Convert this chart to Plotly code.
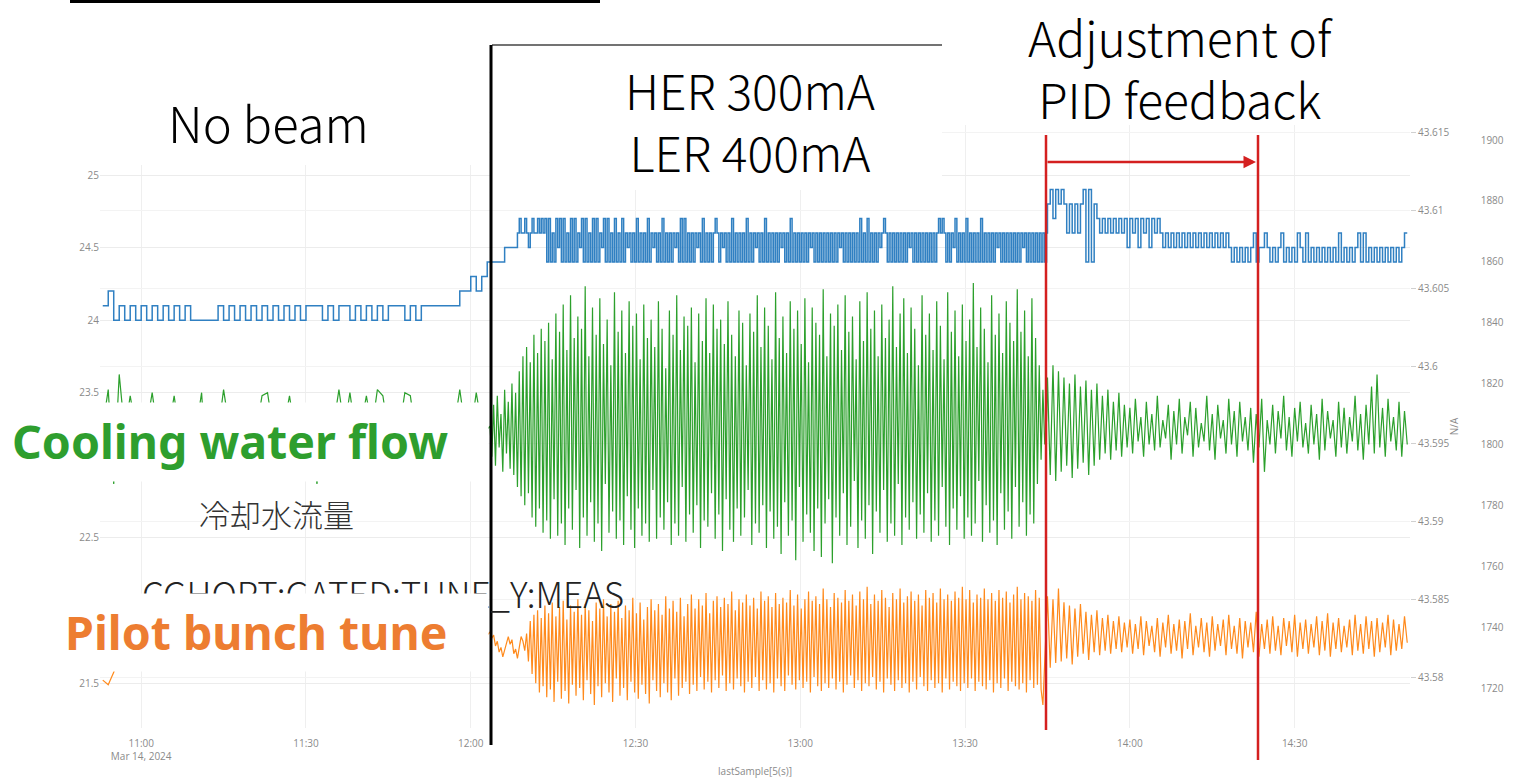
import pandas as pd
import plotly.graph_objects as go

# ---------------- data ----------------
PRE_START = "2024-03-14 10:53:00"    # no-beam part, 1-minute samples
BEAM_START = "2024-03-14 12:03:30"   # beam part, 20-second samples
POST_START = "2024-03-14 13:45:00"   # PID adjustment part, 30-second samples

# blue trace (left axis)
blue_pre = [24.1, 24.2, 24.0, 24.1, 24.0, 24.1, 24.0, 24.1, 24.0, 24.1, 24.0, 24.1,
            24.0, 24.1, 24.0, 24.1,
            24.0, 24.0, 24.0, 24.0, 24.0,
            24.1, 24.0, 24.1, 24.0, 24.1, 24.0, 24.1, 24.0, 24.1, 24.0, 24.1, 24.0, 24.1, 24.0, 24.1, 24.0,
            24.1, 24.1, 24.1,
            24.0, 24.1, 24.0, 24.1, 24.1, 24.0, 24.1, 24.0, 24.1, 24.0,
            24.1, 24.0, 24.1, 24.1, 24.1, 24.0, 24.1, 24.0, 24.1,
            24.1, 24.1, 24.1, 24.1, 24.1, 24.1,
            24.2, 24.2, 24.3, 24.2, 24.3, 24.4]
blue_beam = [24.4, 24.4, 24.4, 24.4, 24.4, 24.4, 24.4, 24.4, 24.5, 24.5,
             24.5, 24.5, 24.5, 24.5, 24.5, 24.6, 24.7, 24.6, 24.6, 24.7,
             24.6, 24.5, 24.6, 24.7, 24.6, 24.6, 24.7, 24.6, 24.7, 24.6,
             24.7, 24.4, 24.7, 24.4, 24.6, 24.4, 24.7, 24.5, 24.7, 24.4,
             24.7, 24.4, 24.6, 24.4, 24.7, 24.4, 24.7, 24.4, 24.6, 24.5,
             24.7, 24.4, 24.7, 24.4, 24.6, 24.4, 24.7, 24.4, 24.7, 24.4,
             24.6, 24.5, 24.7, 24.4, 24.7, 24.4, 24.6, 24.4, 24.7, 24.4,
             24.6, 24.4, 24.7, 24.4, 24.6, 24.5, 24.6, 24.4, 24.6, 24.4,
             24.7, 24.4, 24.6, 24.4, 24.6, 24.4, 24.7, 24.4, 24.6, 24.5,
             24.6, 24.4, 24.6, 24.4, 24.7, 24.4, 24.6, 24.4, 24.6, 24.4,
             24.6, 24.5, 24.6, 24.4, 24.7, 24.4, 24.7, 24.4, 24.6, 24.4,
             24.6, 24.4, 24.6, 24.5, 24.6, 24.4, 24.7, 24.4, 24.6, 24.4,
             24.6, 24.4, 24.6, 24.7, 24.6, 24.4, 24.6, 24.5, 24.6, 24.4,
             24.6, 24.4, 24.7, 24.4, 24.6, 24.4, 24.6, 24.4, 24.6, 24.4,
             24.7, 24.4, 24.6, 24.4, 24.6, 24.5, 24.6, 24.4, 24.6, 24.4,
             24.7, 24.4, 24.6, 24.4, 24.6, 24.4, 24.6, 24.4, 24.6, 24.5,
             24.6, 24.4, 24.6, 24.4, 24.7, 24.4, 24.6, 24.4, 24.6, 24.4,
             24.6, 24.4, 24.6, 24.4, 24.6, 24.5, 24.6, 24.4, 24.6, 24.4,
             24.6, 24.4, 24.6, 24.4, 24.6, 24.4, 24.6, 24.4, 24.6, 24.4,
             24.6, 24.5, 24.6, 24.4, 24.6, 24.4, 24.6, 24.4, 24.6, 24.4,
             24.6, 24.4, 24.7, 24.4, 24.6, 24.4, 24.7, 24.4, 24.6, 24.4,
             24.6, 24.4, 24.6, 24.5, 24.6, 24.7, 24.6, 24.4, 24.6, 24.4,
             24.6, 24.4, 24.6, 24.4, 24.6, 24.4, 24.6, 24.4, 24.6, 24.5,
             24.6, 24.4, 24.6, 24.4, 24.6, 24.4, 24.6, 24.4, 24.6, 24.4,
             24.6, 24.4, 24.6, 24.4, 24.6, 24.7, 24.6, 24.7, 24.6, 24.4,
             24.6, 24.4, 24.6, 24.5, 24.7, 24.4, 24.6, 24.4, 24.6, 24.4,
             24.7, 24.4, 24.6, 24.4, 24.6, 24.4, 24.6, 24.4, 24.7, 24.4,
             24.6, 24.4, 24.6, 24.4, 24.6, 24.4, 24.6, 24.5, 24.6, 24.4,
             24.6, 24.4, 24.6, 24.4, 24.6, 24.4, 24.6, 24.4, 24.6, 24.4,
             24.6, 24.5, 24.6, 24.4, 24.6, 24.4, 24.6, 24.4, 24.6, 24.4,
             24.6, 24.4, 24.6, 24.4, 24.6]
blue_post = [24.8,
             24.9, 24.7, 24.9, 24.8, 24.9,
             24.8, 24.6, 24.8, 24.6, 24.8, 24.6, 24.8,
             24.9, 24.4, 24.9, 24.4, 24.8,
             24.7, 24.6, 24.7, 24.6, 24.7, 24.6, 24.7, 24.6, 24.7,
             24.6, 24.7, 24.5, 24.7, 24.6, 24.7, 24.5, 24.7, 24.6, 24.7, 24.5, 24.7, 24.6, 24.7,
             24.6, 24.5, 24.6, 24.5, 24.6, 24.5, 24.6, 24.5, 24.6, 24.5, 24.6, 24.5, 24.6,
             24.5, 24.6, 24.5, 24.6, 24.5, 24.6, 24.5, 24.6, 24.5, 24.6, 24.5, 24.6, 24.5,
             24.4, 24.5, 24.4, 24.5, 24.4, 24.5, 24.4, 24.5, 24.6, 24.4, 24.5,
             24.5, 24.6, 24.5, 24.4, 24.5, 24.4, 24.5, 24.6, 24.4, 24.5,
             24.4, 24.5, 24.4, 24.6, 24.5, 24.4, 24.6, 24.4, 24.5, 24.4,
             24.5, 24.4, 24.5, 24.4, 24.5, 24.4, 24.5, 24.4, 24.6, 24.4,
             24.5, 24.4, 24.5, 24.4, 24.5, 24.6, 24.4, 24.6, 24.4, 24.5,
             24.4, 24.5, 24.4, 24.5, 24.4, 24.5, 24.4, 24.5, 24.4, 24.5,
             24.4, 24.5, 24.6, 24.6]

# green trace: cooling water flow (far right axis)
green_pre = [1806, 1818, 1787, 1823, 1804, 1816, 1805, 1803, 1806, 1817,
             1804, 1806, 1805, 1816, 1803, 1806, 1804, 1805, 1817, 1788,
             1805, 1804, 1818, 1806, 1803, 1805, 1806, 1804, 1805, 1816,
             1817, 1805, 1803, 1806, 1816, 1804, 1805, 1806, 1803, 1787,
             1805, 1804, 1806, 1818, 1805, 1817, 1804, 1806, 1816, 1805,
             1818, 1816, 1804, 1806, 1805, 1817, 1816, 1803, 1805, 1806,
             1804, 1806, 1805, 1803, 1806, 1818, 1805, 1804, 1817, 1806,
             1805]
green_beam = [1806, 1796, 1813, 1793, 1816, 1799, 1810, 1791, 1818, 1797,
              1814, 1792, 1820, 1790, 1817, 1786, 1824, 1783, 1829, 1780,
              1832, 1784, 1827, 1776, 1836, 1773, 1830, 1779, 1838, 1771,
              1834, 1775, 1840, 1769, 1828, 1782, 1843, 1770, 1837, 1774,
              1846, 1767, 1831, 1779, 1849, 1772, 1835, 1785, 1842, 1766,
              1838, 1776, 1852, 1770, 1829, 1781, 1845, 1768, 1836, 1774,
              1848, 1765, 1833, 1787, 1841, 1771, 1826, 1778, 1850, 1769,
              1837, 1775, 1844, 1767, 1830, 1783, 1847, 1772, 1839, 1766,
              1843, 1779, 1828, 1770, 1846, 1774, 1835, 1768, 1841, 1785,
              1832, 1769, 1847, 1776, 1838, 1772, 1825, 1781, 1844, 1767,
              1836, 1774, 1849, 1770, 1831, 1786, 1842, 1768, 1839, 1777,
              1845, 1771, 1827, 1780, 1843, 1766, 1834, 1775, 1848, 1773,
              1830, 1784, 1846, 1769, 1838, 1777, 1841, 1765, 1833, 1782,
              1847, 1772, 1836, 1768, 1829, 1779, 1844, 1770, 1840, 1776,
              1826, 1785, 1843, 1767, 1837, 1774, 1849, 1771, 1832, 1780,
              1845, 1766, 1839, 1778, 1828, 1769, 1850, 1773, 1835, 1764,
              1842, 1781, 1830, 1770, 1847, 1775, 1838, 1762, 1844, 1786,
              1833, 1768, 1848, 1777, 1827, 1771, 1845, 1765, 1840, 1779,
              1836, 1763, 1851, 1774, 1829, 1782, 1843, 1761, 1839, 1776,
              1846, 1770, 1831, 1784, 1849, 1767, 1837, 1773, 1842, 1788,
              1828, 1766, 1847, 1775, 1834, 1769, 1850, 1780, 1838, 1764,
              1844, 1778, 1829, 1771, 1846, 1785, 1835, 1768, 1841, 1774,
              1852, 1770, 1832, 1787, 1843, 1767, 1848, 1776, 1830, 1772,
              1845, 1781, 1838, 1769, 1826, 1777, 1849, 1771, 1836, 1784,
              1843, 1768, 1831, 1775, 1847, 1770, 1839, 1786, 1828, 1773,
              1850, 1767, 1837, 1779, 1844, 1772, 1829, 1783, 1846, 1769,
              1834, 1776, 1841, 1770, 1853, 1774, 1832, 1788, 1845, 1768,
              1838, 1780, 1827, 1771, 1849, 1775, 1836, 1767, 1843, 1784,
              1830, 1772, 1847, 1778, 1840, 1769, 1834, 1786, 1851, 1773,
              1837, 1781, 1844, 1770, 1829, 1777, 1848, 1774, 1835, 1787,
              1826, 1795, 1818, 1800, 1808]
green_post = [1822, 1790, 1826, 1788, 1824, 1791, 1822, 1793, 1820, 1789,
              1823, 1792, 1819, 1794, 1821, 1790, 1818, 1793, 1820, 1795,
              1816, 1797, 1818, 1795, 1814, 1798, 1817, 1796, 1813, 1799,
              1812, 1797, 1815, 1801, 1809, 1796, 1814, 1800, 1810, 1798,
              1816, 1799, 1808, 1802, 1813, 1795, 1811, 1800, 1815, 1797,
              1809, 1803, 1814, 1796, 1812, 1799, 1807, 1801, 1816, 1798,
              1810, 1795, 1813, 1802, 1808, 1797, 1815, 1800, 1811, 1796,
              1814, 1801, 1809, 1798, 1812, 1794, 1810, 1799, 1815, 1791,
              1808, 1800, 1813, 1797, 1811, 1802, 1816, 1798, 1809, 1796,
              1812, 1801, 1814, 1799, 1807, 1797, 1813, 1800, 1810, 1795,
              1815, 1798, 1811, 1802, 1808, 1796, 1814, 1799, 1812, 1797,
              1809, 1801, 1816, 1798, 1810, 1795, 1813, 1800, 1819, 1797,
              1823, 1799, 1812, 1796, 1815, 1801, 1809, 1798, 1814, 1796,
              1811, 1800]

# orange trace: pilot bunch tune (first right axis)
orange_pre = [43.5798, 43.5795, 43.5803, 43.5815,
              43.5822, 43.5826, 43.5821, 43.5824, 43.5827, 43.5820, 43.5823, 43.5826, 43.5822, 43.5825,
              43.5821, 43.5824, 43.5828, 43.5822, 43.5825, 43.5820, 43.5824, 43.5827, 43.5823, 43.5821,
              43.5825, 43.5822, 43.5826, 43.5823, 43.5820, 43.5824, 43.5827, 43.5822, 43.5825, 43.5821,
              43.5824, 43.5828, 43.5822, 43.5825, 43.5821, 43.5823, 43.5826, 43.5822, 43.5824, 43.5827,
              43.5821, 43.5825, 43.5823, 43.5820, 43.5826, 43.5822, 43.5825, 43.5821, 43.5824, 43.5827,
              43.5822, 43.5825, 43.5820, 43.5824, 43.5826, 43.5821, 43.5823, 43.5827, 43.5822, 43.5825,
              43.5821, 43.5824, 43.5828, 43.5823, 43.5826, 43.5830, 43.5827]
orange_beam = [43.5829, 43.5825, 43.5827, 43.5820, 43.5823, 43.5816, 43.5819, 43.5813, 43.5817, 43.5822,
               43.5826, 43.5821, 43.5824, 43.5815, 43.5818, 43.5812, 43.5820, 43.5826, 43.5823, 43.5817,
               43.5828, 43.5810, 43.5836, 43.5802, 43.5840, 43.5796, 43.5843, 43.5790, 43.5838, 43.5794,
               43.5846, 43.5787, 43.5841, 43.5792, 43.5848, 43.5784, 43.5839, 43.5797, 43.5845, 43.5786,
               43.5849, 43.5791, 43.5837, 43.5783, 43.5846, 43.5795, 43.5842, 43.5788, 43.5850, 43.5793,
               43.5840, 43.5785, 43.5847, 43.5798, 43.5843, 43.5789, 43.5836, 43.5782, 43.5848, 43.5794,
               43.5844, 43.5787, 43.5850, 43.5796, 43.5839, 43.5790, 43.5847, 43.5784, 43.5842, 43.5799,
               43.5849, 43.5788, 43.5838, 43.5793, 43.5846, 43.5785, 43.5843, 43.5797, 43.5851, 43.5790,
               43.5841, 43.5786, 43.5848, 43.5795, 43.5837, 43.5789, 43.5845, 43.5783, 43.5850, 43.5798,
               43.5843, 43.5791, 43.5847, 43.5787, 43.5840, 43.5796, 43.5852, 43.5790, 43.5844, 43.5785,
               43.5849, 43.5799, 43.5842, 43.5788, 43.5851, 43.5793, 43.5839, 43.5797, 43.5847, 43.5789,
               43.5853, 43.5795, 43.5844, 43.5791, 43.5850, 43.5800, 43.5846, 43.5792, 43.5854, 43.5797,
               43.5841, 43.5790, 43.5849, 43.5798, 43.5852, 43.5793, 43.5845, 43.5801, 43.5851, 43.5791,
               43.5847, 43.5796, 43.5855, 43.5792, 43.5843, 43.5799, 43.5850, 43.5794, 43.5848, 43.5790,
               43.5853, 43.5797, 43.5846, 43.5793, 43.5851, 43.5800, 43.5844, 43.5791, 43.5855, 43.5798,
               43.5849, 43.5792, 43.5852, 43.5796, 43.5845, 43.5790, 43.5854, 43.5799, 43.5847, 43.5794,
               43.5851, 43.5791, 43.5848, 43.5801, 43.5856, 43.5795, 43.5846, 43.5792, 43.5853, 43.5798,
               43.5844, 43.5793, 43.5850, 43.5797, 43.5855, 43.5790, 43.5849, 43.5800, 43.5852, 43.5794,
               43.5847, 43.5791, 43.5857, 43.5796, 43.5850, 43.5793, 43.5845, 43.5799, 43.5854, 43.5792,
               43.5851, 43.5797, 43.5848, 43.5790, 43.5856, 43.5795, 43.5849, 43.5801, 43.5853, 43.5793,
               43.5846, 43.5798, 43.5855, 43.5791, 43.5850, 43.5796, 43.5858, 43.5794, 43.5847, 43.5800,
               43.5853, 43.5792, 43.5849, 43.5797, 43.5856, 43.5790, 43.5851, 43.5799, 43.5845, 43.5795,
               43.5854, 43.5791, 43.5850, 43.5798, 43.5857, 43.5793, 43.5848, 43.5796, 43.5852, 43.5790,
               43.5855, 43.5797, 43.5849, 43.5792, 43.5853, 43.5800, 43.5846, 43.5794, 43.5856, 43.5791,
               43.5851, 43.5798, 43.5854, 43.5793, 43.5848, 43.5796, 43.5857, 43.5790, 43.5850, 43.5799,
               43.5853, 43.5792, 43.5849, 43.5797, 43.5855, 43.5794, 43.5851, 43.5791, 43.5858, 43.5796,
               43.5850, 43.5793, 43.5856, 43.5799, 43.5848, 43.5791, 43.5853, 43.5797, 43.5851, 43.5794,
               43.5857, 43.5792, 43.5850, 43.5798, 43.5854, 43.5790, 43.5849, 43.5796, 43.5856, 43.5793,
               43.5851, 43.5799, 43.5855, 43.5791, 43.5848, 43.5797, 43.5853, 43.5794, 43.5858, 43.5792,
               43.5850, 43.5796, 43.5854, 43.5790, 43.5852, 43.5798, 43.5849, 43.5793, 43.5856, 43.5795,
               43.5851, 43.5792, 43.5782, 43.5810, 43.5838]
orange_post = [43.5852, 43.5806, 43.5850, 43.5809, 43.5857, 43.5810, 43.5848, 43.5812, 43.5846, 43.5808,
               43.5844, 43.5813, 43.5847, 43.5815, 43.5842, 43.5811, 43.5840, 43.5816, 43.5843, 43.5814,
               43.5838, 43.5817, 43.5840, 43.5815, 43.5836, 43.5818, 43.5839, 43.5816, 43.5835, 43.5819,
               43.5837, 43.5815, 43.5834, 43.5818, 43.5839, 43.5814, 43.5836, 43.5820, 43.5833, 43.5816,
               43.5838, 43.5813, 43.5835, 43.5819, 43.5840, 43.5815, 43.5834, 43.5817, 43.5837, 43.5812,
               43.5836, 43.5818, 43.5841, 43.5814, 43.5833, 43.5819, 43.5838, 43.5816, 43.5835, 43.5813,
               43.5839, 43.5817, 43.5834, 43.5820, 43.5837, 43.5814, 43.5840, 43.5818, 43.5833, 43.5815,
               43.5838, 43.5812, 43.5836, 43.5819, 43.5835, 43.5816, 43.5842, 43.5813, 43.5834, 43.5818,
               43.5837, 43.5815, 43.5839, 43.5817, 43.5833, 43.5814, 43.5838, 43.5820, 43.5836, 43.5816,
               43.5840, 43.5813, 43.5835, 43.5818, 43.5837, 43.5815, 43.5834, 43.5819, 43.5839, 43.5814,
               43.5836, 43.5817, 43.5841, 43.5813, 43.5835, 43.5818, 43.5838, 43.5816, 43.5833, 43.5819,
               43.5837, 43.5814, 43.5840, 43.5817, 43.5834, 43.5815, 43.5839, 43.5818, 43.5836, 43.5813,
               43.5838, 43.5816, 43.5835, 43.5819, 43.5840, 43.5814, 43.5837, 43.5817, 43.5834, 43.5818,
               43.5839, 43.5822]

tick_times = ["2024-03-14 11:00", "2024-03-14 11:30", "2024-03-14 12:00", "2024-03-14 12:30",
              "2024-03-14 13:00", "2024-03-14 13:30", "2024-03-14 14:00", "2024-03-14 14:30"]
tick_labels = ["11:00<br>Mar 14, 2024", "11:30", "12:00", "12:30", "13:00", "13:30", "14:00", "14:30"]
left_ticks = [21.5, 22.5, 23.5, 24, 24.5, 25]   # 22 and 23 sit under the label boxes

# ---------------- build ----------------
def seg_times(start, n, freq):
    return list(pd.date_range(start, periods=n, freq=freq))


def series_times(pre, beam, post):
    return (seg_times(PRE_START, len(pre), "60s")
            + seg_times(BEAM_START, len(beam), "20s")
            + seg_times(POST_START, len(post), "30s"))


t_blue = series_times(blue_pre, blue_beam, blue_post)
t_green = series_times(green_pre, green_beam, green_post)
t_orange = series_times(orange_pre, orange_beam, orange_post)
blue = blue_pre + blue_beam + blue_post
green = green_pre + green_beam + green_post
orange = orange_pre + orange_beam + orange_post

W, H = 1518, 778
ML, MR, MT, MB = 100, 30, 125, 50
PW, PH = W - ML - MR, H - MT - MB


def px(x):
    return (x - ML) / PW


def py(y):
    return (H - MB - y) / PH


fig = go.Figure()
fig.add_trace(go.Scatter(x=t_blue, y=blue, mode="lines", yaxis="y",
                         line=dict(color="#3080c2", width=1.5, shape="hv"), name="blue"))
fig.add_trace(go.Scatter(x=t_green, y=green, mode="lines", yaxis="y3",
                         line=dict(color="#2ca02c", width=1.2), name="冷却水流量"))
fig.add_trace(go.Scatter(x=t_orange, y=orange, mode="lines", yaxis="y2",
                         line=dict(color="#ff8a1c", width=1.2), name="CGHOPT:GATED:TUNE_Y:MEAS"))

tickfont = dict(family="Open Sans, Roboto, sans-serif", size=10, color="#8a8a8a")
xend = px(1410)

fig.update_layout(
    template="none", width=W, height=H, showlegend=False,
    margin=dict(l=ML, r=MR, t=MT, b=MB),
    paper_bgcolor="white", plot_bgcolor="white",
    xaxis=dict(domain=[0, xend], range=["2024-03-14 10:52:30", "2024-03-14 14:51:00"],
               tickvals=tick_times, ticktext=tick_labels, tickfont=tickfont,
               showgrid=True, gridcolor="#efefef", zeroline=False, showline=False,
               ticks="", ticklabelstandoff=8, automargin=False,
               title=dict(text="lastSample[5(s)]", font=tickfont, standoff=6)),
    yaxis=dict(range=[21.19, 25.3445], tickvals=left_ticks, tickfont=tickfont,
               showgrid=True, gridcolor="#ececec", zeroline=False, showline=False,
               ticks="", automargin=False),
    yaxis2=dict(overlaying="y", side="right", anchor="x",
                range=[43.57672, 43.61551], tick0=43.58, dtick=0.005, tickfont=tickfont,
                showgrid=True, gridcolor="#f3f3f3", zeroline=False, showline=False,
                ticks="outside", ticklen=5, tickcolor="#d0d0d0", automargin=False,
                title=dict(text="N/A", font=tickfont, standoff=2)),
    yaxis3=dict(overlaying="y", side="right", anchor="free", position=0.994,
                range=[1706.86, 1904.93], tick0=1720, dtick=20, tickfont=tickfont,
                showgrid=False, zeroline=False, showline=False, ticks="", automargin=False),
)

shapes = [
    # white panels of the overlaid slide text boxes
    dict(type="rect", x0=px(70), x1=px(489), y0=py(3), y1=py(165),
         fillcolor="white", line=dict(width=0)),
    dict(type="rect", x0=px(492), x1=px(942), y0=py(46), y1=py(190),
         fillcolor="white", line=dict(width=0)),
    # black borders
    dict(type="line", x0=px(70), x1=px(600), y0=py(1.5), y1=py(1.5),
         line=dict(color="black", width=3)),
    dict(type="line", x0=px(492), x1=px(942), y0=py(45), y1=py(45),
         line=dict(color="#444444", width=1.5)),
    dict(type="line", x0=px(491), x1=px(491), y0=py(45), y1=py(745),
         line=dict(color="black", width=3)),
    # red markers of the PID adjustment window
    dict(type="line", x0=px(1046), x1=px(1046), y0=py(135), y1=py(730),
         line=dict(color="#d42020", width=2.5)),
    dict(type="line", x0=px(1258), x1=px(1258), y0=py(135), y1=py(760),
         line=dict(color="#d42020", width=2.5)),
]
for s in shapes:
    s.update(xref="paper", yref="paper", layer="above")
fig.update_layout(shapes=shapes)

jp = "Noto Sans CJK JP, Noto Sans, sans-serif"
anns = [
    dict(text="No beam", x=px(268), y=py(122), font=dict(family=jp, size=49, color="black", weight=300)),
    dict(text="HER 300mA<br>LER 400mA", x=px(750), y=py(120),
         font=dict(family=jp, size=48, color="black", weight=300)),
    dict(text="Adjustment of<br>PID feedback", x=px(1180), y=py(67),
         font=dict(family=jp, size=48, color="black", weight=300)),
    dict(text="冷却水流量", x=px(276), y=py(513), font=dict(family=jp, size=31, color="#333333", weight=300)),
    dict(text="CGHOPT:GATED:TUNE_Y:MEAS", x=px(140), y=py(592), xanchor="left",
         font=dict(family=jp, size=35, color="#222222", weight=300)),
    # white label boxes (drawn after the CGHOPT text so they cut it)
    dict(text=" ", x=px(0), y=py(402), xanchor="left", yanchor="top", width=487, height=78,
         bgcolor="white", borderpad=0, font=dict(size=10)),
    dict(text="<b>Cooling water flow</b>", x=px(450), y=py(441), xanchor="right",
         font=dict(family="Noto Sans, sans-serif", size=46.5, color="#2e9e2e")),
    dict(text=" ", x=px(0), y=py(593), xanchor="left", yanchor="top", width=487, height=77,
         bgcolor="white", borderpad=0, font=dict(size=10)),
    dict(text="<b>Pilot bunch tune</b>", x=px(450), y=py(632), xanchor="right",
         font=dict(family="Noto Sans, sans-serif", size=46.5, color="#ed7d31")),
    # red arrow
    dict(text="", x=px(1256), y=py(162), ax=-210, ay=0, showarrow=True,
         arrowhead=2, arrowsize=1, arrowwidth=2.5, arrowcolor="#d42020"),
]
for a in anns:
    a.setdefault("showarrow", False)
    a.setdefault("xanchor", "center")
    a.setdefault("yanchor", "middle")
    a.update(xref="paper", yref="paper")
fig.update_layout(annotations=anns)

fig.write_html("out.html")
